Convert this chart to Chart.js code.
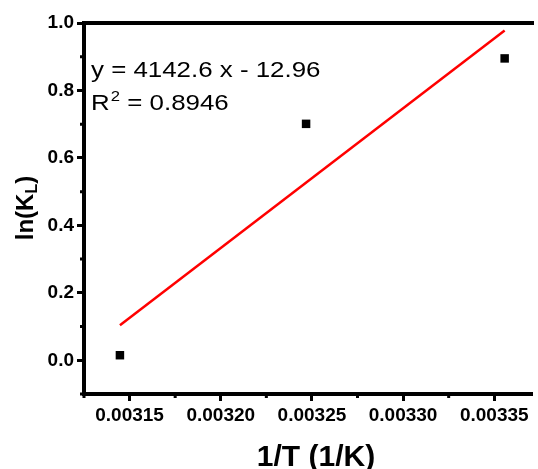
<!DOCTYPE html>
<html>
<head>
<meta charset="utf-8">
<script src="https://cdn.jsdelivr.net/npm/chart.js@4"></script>
<style>
  html, body { margin: 0; padding: 0; overflow: hidden; background: #fff; }
  #wrap { width: 538px; height: 469px; }
</style>
</head>
<body>
<div id="wrap"><canvas id="chart" width="538" height="469"></canvas></div>
<script>
// Data
const xValues = [0.0031447, 0.0032468, 0.0033557];
const yValues = [0.015, 0.701, 0.895];
const fitX = [0.0031447, 0.0033557];
const fitY = [0.104, 0.978];
const xTicks = [0.00315, 0.0032, 0.00325, 0.0033, 0.00335];
const yTicks = [0.0, 0.2, 0.4, 0.6, 0.8, 1.0];
const xMinorTicks = [0.003125, 0.003175, 0.003225, 0.003275, 0.003325];
const yMinorTicks = [-0.1, 0.1, 0.3, 0.5, 0.7, 0.9];
const fitLabel = 'y = 4142.6 x - 12.96';
const r2Value = '0.8946';
const xTitle = '1/T (1/K)';

const FONT = "'Liberation Sans', Arial, sans-serif";

// Top frame, minor ticks, axis titles and fit text
const extras = {
    id: 'extras',
    afterDraw(chart) {
        const ctx = chart.ctx;
        const area = chart.chartArea;
        const xs = chart.scales.x;
        const ys = chart.scales.y;
        ctx.save();
        ctx.strokeStyle = '#000';
        ctx.lineWidth = 4;
        ctx.beginPath();
        ctx.moveTo(area.left - 2, area.top);
        ctx.lineTo(area.right + 2, area.top);
        ctx.stroke();

        // minor ticks
        ctx.lineWidth = 3;
        ctx.beginPath();
        xMinorTicks.forEach(v => {
            const px = xs.getPixelForValue(v);
            ctx.moveTo(px, area.bottom);
            ctx.lineTo(px, area.bottom + 4);
        });
        yMinorTicks.forEach(v => {
            const py = ys.getPixelForValue(v);
            ctx.moveTo(area.left, py);
            ctx.lineTo(area.left - 4, py);
        });
        ctx.stroke();

        // x axis title
        ctx.fillStyle = '#000';
        ctx.font = 'bold 30px ' + FONT;
        ctx.textAlign = 'center';
        ctx.textBaseline = 'alphabetic';
        ctx.fillText(xTitle, 316, 466);
        ctx.textAlign = 'left';

        // y axis title with subscript
        ctx.translate(33, 208);
        ctx.rotate(-Math.PI / 2);
        const mainFont = 'bold 24px ' + FONT;
        const subFont = 'bold 16px ' + FONT;
        ctx.font = mainFont;
        const w1 = ctx.measureText('ln(K').width;
        const w3 = ctx.measureText(')').width;
        ctx.font = subFont;
        const w2 = ctx.measureText('L').width;
        let x0 = -(w1 + w2 + w3) / 2;
        ctx.font = mainFont;
        ctx.fillText('ln(K', x0, 0);
        ctx.font = subFont;
        ctx.fillText('L', x0 + w1, 4);
        ctx.font = mainFont;
        ctx.fillText(')', x0 + w1 + w2, 0);
        ctx.restore();

        // regression text
        ctx.save();
        ctx.fillStyle = '#000';
        ctx.textBaseline = 'alphabetic';
        ctx.translate(area.left + 7, area.top + 54);
        ctx.scale(1.15, 1);
        ctx.font = '22.5px ' + FONT;
        ctx.fillText(fitLabel, 0, 0);
        const rw = ctx.measureText('R').width;
        ctx.fillText('R', 0, 33);
        ctx.font = '14.5px ' + FONT;
        const sw = ctx.measureText('2').width;
        ctx.fillText('2', rw + 1, 23.5);
        ctx.font = '22.5px ' + FONT;
        ctx.fillText(' = ' + r2Value, rw + sw + 1, 33);
        ctx.restore();
    }
};

const ctx = document.getElementById('chart').getContext('2d');
new Chart(ctx, {
    data: {
        datasets: [{
            type: 'scatter',
            data: xValues.map((x, i) => ({ x: x, y: yValues[i] })),
            pointStyle: 'rect',
            pointRadius: 6,
            pointBorderWidth: 0,
            backgroundColor: '#000',
            borderColor: '#000'
        }, {
            type: 'line',
            data: fitX.map((x, i) => ({ x: x, y: fitY[i] })),
            borderColor: '#ff0000',
            borderWidth: 2.5,
            pointRadius: 0,
            fill: false
        }]
    },
    plugins: [extras],
    options: {
        responsive: false,
        animation: false,
        layout: { padding: { left: 0, top: 23, right: 0, bottom: 0 } },
        plugins: {
            legend: { display: false },
            tooltip: { enabled: false }
        },
        scales: {
            x: {
                type: 'linear',
                min: 0.003125,
                max: 0.0033707,
                afterBuildTicks: scale => { scale.ticks = xTicks.map(v => ({ value: v })); },
                afterFit: scale => { scale.height = 75; },
                grid: { drawOnChartArea: false, drawTicks: true, tickLength: 7, tickWidth: 3, tickColor: '#000' },
                border: { display: true, width: 4, color: '#000' },
                ticks: {
                    color: '#000',
                    padding: 3,
                    maxRotation: 0,
                    font: { family: FONT, weight: 'bold', size: 19 },
                    callback: v => v.toFixed(5)
                }
            },
            y: {
                type: 'linear',
                min: -0.1,
                max: 1.0,
                afterBuildTicks: scale => { scale.ticks = yTicks.map(v => ({ value: v })); },
                afterFit: scale => { scale.width = 84; },
                grid: { drawOnChartArea: false, drawTicks: true, tickLength: 7, tickWidth: 3, tickColor: '#000' },
                border: { display: true, width: 4, color: '#000' },
                ticks: {
                    color: '#000',
                    padding: 3,
                    font: { family: FONT, weight: 'bold', size: 19 },
                    callback: v => v.toFixed(1)
                }
            }
        }
    }
});
</script>
</body>
</html>
